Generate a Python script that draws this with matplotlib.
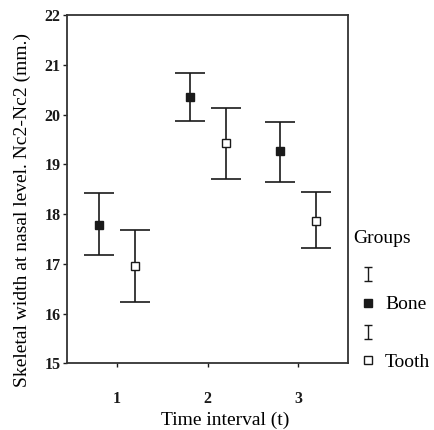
import matplotlib
matplotlib.use("Agg")
import matplotlib.pyplot as plt
from matplotlib.lines import Line2D
from matplotlib.path import Path
import numpy as np

plt.rcParams['font.family'] = ['Liberation Serif', 'DejaVu Serif']

time_labels = ["1", "2", "3"]
groups = ["Bone", "Tooth"]
bone_mean = [17.79, 20.36, 19.27]
bone_low = [17.18, 19.87, 18.65]
bone_high = [18.42, 20.83, 19.85]
tooth_mean = [16.96, 19.42, 17.87]
tooth_low = [16.24, 18.70, 17.31]
tooth_high = [17.69, 20.13, 18.44]
y_ticks = [15, 16, 17, 18, 19, 20, 21, 22]

fig = plt.figure(figsize=(4.34, 4.30), dpi=100)
ax = fig.add_axes([0.155, 0.155, 0.647, 0.81])

x = np.arange(1, len(time_labels) + 1)
offset = 0.2
col = '#1a1a1a'

for means, lows, highs, dx, face in [
    (bone_mean, bone_low, bone_high, -offset, col),
    (tooth_mean, tooth_low, tooth_high, offset, 'white'),
]:
    m = np.array(means)
    yerr = [m - np.array(lows), np.array(highs) - m]
    ax.errorbar(x + dx, m, yerr=yerr, fmt='none', ecolor=col,
                elinewidth=1.2, capsize=10.5, capthick=1.2)
    ax.plot(x + dx, m, ls='none', marker='s', markersize=5.3,
            markerfacecolor=face, markeredgecolor=col, markeredgewidth=1.0,
            zorder=5)

ax.set_xlim(0.45, 3.55)
ax.set_ylim(15, 22)
ax.set_xticks(x)
ax.set_xticklabels(time_labels)
ax.set_yticks(y_ticks)
for lab in ax.get_xticklabels() + ax.get_yticklabels():
    lab.set_fontweight('bold')
    lab.set_fontsize(11.5)
ax.tick_params(axis='x', length=3, width=1.0, pad=17, colors=col)
ax.tick_params(axis='y', length=3, width=1.0, pad=2, colors=col)
for s in ax.spines.values():
    s.set_linewidth(1.3)
    s.set_color('#333333')

ax.set_xlabel("Time interval (t)", fontsize=14)
ax.set_ylabel("Skeletal width at nasal level. Nc2-Nc2 (mm.)", fontsize=14)
ax.xaxis.set_label_coords(0.562, -0.14)
ax.yaxis.set_label_coords(-0.13, 0.44)

ax.text(1.018, 0.359, "Groups", transform=ax.transAxes, fontsize=14,
        ha='left', va='center')

ibar = Path([(-0.6, 1), (0.6, 1), (0, 1), (0, -1), (-0.6, -1), (0.6, -1)],
            [Path.MOVETO, Path.LINETO, Path.MOVETO, Path.LINETO, Path.MOVETO, Path.LINETO])
handles = [
    Line2D([], [], ls='none', marker=ibar, markersize=10, markeredgecolor=col,
           markerfacecolor='none', markeredgewidth=1.0),
    Line2D([], [], ls='none', marker='s', markersize=5.3, markerfacecolor=col,
           markeredgecolor=col),
    Line2D([], [], ls='none', marker=ibar, markersize=10, markeredgecolor=col,
           markerfacecolor='none', markeredgewidth=1.0),
    Line2D([], [], ls='none', marker='s', markersize=5.3, markerfacecolor='white',
           markeredgecolor=col),
]
labels = ["", groups[0], "", groups[1]]
leg = ax.legend(handles, labels, loc='upper left',
                bbox_to_anchor=(1.01, 0.299), frameon=False, fontsize=14,
                handlelength=1.0, handletextpad=0.35,
                labelspacing=0.58, borderaxespad=0)

fig.savefig("out.png", dpi=100)
